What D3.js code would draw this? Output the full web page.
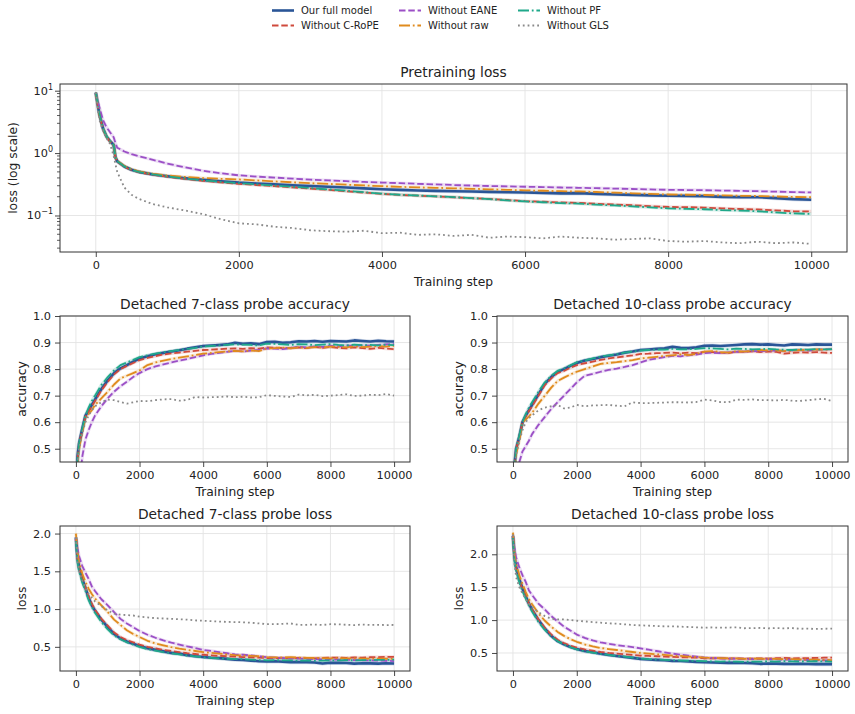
<!DOCTYPE html>
<html>
<head>
<meta charset="utf-8">
<script src="https://cdn.jsdelivr.net/npm/d3@7"></script>
<style>
  body { margin: 0; background: #fff; }
  svg { font-family: "DejaVu Sans", sans-serif; display: block; }
</style>
</head>
<body>
<svg id="chart" width="855" height="714"></svg>
<script>
// ---- data ----
const seriesNames = ['Our full model', 'Without C-RoPE', 'Without EANE', 'Without raw', 'Without PF', 'Without GLS'];

const xTicks = [0, 2000, 4000, 6000, 8000, 10000];
const accTicks = [0.5, 0.6, 0.7, 0.8, 0.9, 1.0];
const lossTicks = [0.5, 1.0, 1.5, 2.0];
const logTicks = [0.1, 1, 10];

// pretraining loss is logged on a finer grid early on
const preSteps = [0,50,100,150,200,250,275,300,400,500,600,800,1000,1250,1500,1750,2000,
  2250,2500,2750,3000,3250,3500,3750,4000,4250,4500,4750,5000,5250,5500,5750,6000,
  6250,6500,6750,7000,7250,7500,7750,8000,8250,8500,8750,9000,9250,9500,9750,10000];

const pre_full = [9.3,4.2,2.5,1.85,1.55,1.35,0.86,0.74,0.61,0.54,0.5,0.455,0.425,0.395,0.372,0.352,0.336,
  0.326,0.316,0.306,0.297,0.289,0.281,0.272,0.263,0.257,0.252,0.248,0.245,0.242,0.239,0.236,0.233,
  0.23,0.226,0.228,0.222,0.217,0.214,0.21,0.207,0.206,0.204,0.199,0.197,0.196,0.19,0.183,0.179];
const pre_crope = [9.2,4.1,2.45,1.82,1.52,1.33,0.84,0.73,0.6,0.535,0.495,0.45,0.418,0.385,0.36,0.34,0.322,
  0.308,0.295,0.282,0.27,0.257,0.245,0.233,0.222,0.214,0.208,0.202,0.196,0.19,0.184,0.177,0.17,
  0.166,0.162,0.159,0.154,0.15,0.146,0.141,0.137,0.136,0.134,0.13,0.127,0.125,0.121,0.117,0.116];
const pre_eane = [9.0,5.5,3.4,2.6,2.15,1.8,1.45,1.22,1.06,0.96,0.89,0.78,0.68,0.59,0.52,0.475,0.44,
  0.42,0.405,0.39,0.375,0.365,0.355,0.345,0.337,0.33,0.322,0.315,0.308,0.302,0.297,0.293,0.289,
  0.285,0.281,0.278,0.274,0.27,0.266,0.262,0.258,0.256,0.254,0.251,0.248,0.245,0.241,0.237,0.234];
const pre_raw = [9.3,4.2,2.5,1.84,1.55,1.35,0.87,0.75,0.62,0.55,0.51,0.465,0.437,0.415,0.398,0.387,0.378,
  0.365,0.352,0.34,0.33,0.321,0.312,0.303,0.295,0.288,0.282,0.278,0.273,0.268,0.263,0.258,0.253,
  0.249,0.245,0.243,0.238,0.232,0.227,0.222,0.217,0.215,0.213,0.21,0.207,0.205,0.202,0.198,0.196];
const pre_pf = [9.4,4.3,2.5,1.86,1.56,1.36,0.85,0.74,0.61,0.54,0.5,0.455,0.423,0.39,0.366,0.347,0.33,
  0.316,0.302,0.288,0.275,0.262,0.249,0.236,0.224,0.215,0.209,0.203,0.197,0.19,0.183,0.175,0.168,
  0.163,0.158,0.155,0.149,0.145,0.14,0.135,0.13,0.128,0.126,0.122,0.12,0.117,0.112,0.108,0.106];
const pre_gls = [9.5,3.4,2.3,1.75,1.4,0.9,0.66,0.5,0.28,0.215,0.185,0.152,0.135,0.12,0.105,0.087,0.075,
  0.072,0.066,0.063,0.058,0.056,0.055,0.057,0.052,0.053,0.049,0.05,0.047,0.049,0.044,0.046,0.045,
  0.043,0.046,0.044,0.043,0.041,0.042,0.043,0.039,0.038,0.039,0.037,0.036,0.038,0.036,0.037,0.035];

// probe metrics
const probeSteps = [0,50,100,200,300,400,500,600,800,1000,1200,1400,1600,1800,2000,
  2250,2500,2750,3000,3250,3500,3750,4000,4250,4500,4750,5000,5250,5500,5750,6000,
  6250,6500,6750,7000,7250,7500,7750,8000,8250,8500,8750,9000,9250,9500,9750,10000];

const acc7_full = [0.15,0.47,0.52,0.575,0.625,0.645,0.665,0.685,0.725,0.758,0.785,0.803,0.815,0.828,0.84,
  0.848,0.856,0.861,0.866,0.871,0.877,0.882,0.887,0.889,0.891,0.893,0.899,0.895,0.897,0.894,0.902,
  0.903,0.899,0.901,0.905,0.904,0.906,0.903,0.906,0.905,0.904,0.908,0.906,0.904,0.907,0.905,0.904];
const acc7_crope = [0.15,0.46,0.52,0.57,0.62,0.64,0.66,0.68,0.72,0.752,0.78,0.8,0.812,0.823,0.834,
  0.842,0.849,0.855,0.859,0.862,0.866,0.869,0.872,0.873,0.875,0.877,0.878,0.876,0.879,0.877,0.882,
  0.881,0.879,0.88,0.882,0.879,0.884,0.88,0.883,0.88,0.878,0.882,0.879,0.876,0.88,0.877,0.875];
const acc7_eane = [0.12,0.25,0.35,0.47,0.535,0.57,0.6,0.625,0.66,0.69,0.715,0.735,0.752,0.77,0.785,
  0.8,0.81,0.818,0.825,0.832,0.838,0.845,0.852,0.857,0.861,0.865,0.869,0.866,0.87,0.872,0.878,
  0.877,0.875,0.879,0.884,0.882,0.885,0.884,0.887,0.886,0.889,0.887,0.89,0.888,0.891,0.893,0.894];
const acc7_raw = [0.15,0.44,0.5,0.56,0.618,0.63,0.645,0.665,0.69,0.715,0.742,0.765,0.775,0.785,0.795,
  0.815,0.825,0.832,0.838,0.843,0.848,0.853,0.858,0.861,0.864,0.866,0.869,0.867,0.87,0.868,0.878,
  0.879,0.881,0.878,0.882,0.88,0.883,0.881,0.885,0.884,0.882,0.886,0.883,0.885,0.887,0.885,0.888];
const acc7_pf = [0.15,0.46,0.52,0.575,0.625,0.655,0.68,0.7,0.74,0.77,0.795,0.815,0.825,0.835,0.845,
  0.852,0.858,0.864,0.868,0.872,0.876,0.88,0.885,0.887,0.889,0.891,0.893,0.892,0.891,0.889,0.896,
  0.895,0.893,0.891,0.894,0.893,0.89,0.892,0.894,0.891,0.889,0.892,0.89,0.891,0.889,0.892,0.89];
const acc7_gls = [0.15,0.44,0.5,0.56,0.6,0.625,0.645,0.66,0.675,0.685,0.683,0.676,0.67,0.675,0.68,
  0.679,0.683,0.686,0.687,0.681,0.684,0.695,0.693,0.694,0.695,0.697,0.694,0.696,0.693,0.694,0.702,
  0.699,0.697,0.695,0.704,0.701,0.703,0.698,0.7,0.702,0.705,0.699,0.7,0.703,0.702,0.706,0.7];

const acc10_full = [0.12,0.44,0.5,0.545,0.6,0.625,0.645,0.665,0.705,0.745,0.77,0.79,0.8,0.812,0.823,
  0.832,0.838,0.845,0.85,0.855,0.862,0.866,0.872,0.874,0.876,0.878,0.884,0.88,0.879,0.882,0.888,
  0.889,0.887,0.889,0.891,0.893,0.894,0.892,0.893,0.891,0.889,0.893,0.892,0.891,0.893,0.892,0.892];
const acc10_crope = [0.12,0.44,0.5,0.545,0.6,0.622,0.642,0.66,0.7,0.74,0.765,0.785,0.793,0.805,0.815,
  0.822,0.828,0.835,0.84,0.844,0.848,0.852,0.857,0.858,0.86,0.861,0.862,0.86,0.862,0.86,0.865,
  0.864,0.862,0.86,0.866,0.865,0.867,0.864,0.866,0.865,0.858,0.861,0.863,0.862,0.864,0.862,0.861];
const acc10_eane = [0.1,0.22,0.32,0.45,0.49,0.51,0.53,0.555,0.59,0.62,0.65,0.675,0.7,0.725,0.75,
  0.775,0.782,0.79,0.797,0.802,0.808,0.815,0.825,0.835,0.84,0.845,0.85,0.848,0.852,0.855,0.86,
  0.862,0.86,0.863,0.865,0.866,0.868,0.867,0.869,0.87,0.868,0.871,0.872,0.87,0.873,0.874,0.875];
const acc10_raw = [0.12,0.42,0.48,0.53,0.6,0.61,0.622,0.635,0.67,0.7,0.73,0.755,0.768,0.78,0.79,
  0.8,0.81,0.82,0.823,0.826,0.83,0.834,0.84,0.843,0.846,0.849,0.852,0.855,0.853,0.857,0.866,
  0.868,0.864,0.862,0.867,0.866,0.869,0.872,0.87,0.871,0.868,0.869,0.872,0.871,0.874,0.873,0.875];
const acc10_pf = [0.12,0.44,0.5,0.55,0.6,0.63,0.655,0.675,0.715,0.75,0.775,0.793,0.803,0.814,0.826,
  0.833,0.84,0.847,0.852,0.856,0.862,0.866,0.87,0.872,0.874,0.873,0.876,0.874,0.875,0.876,0.879,
  0.878,0.876,0.874,0.877,0.876,0.874,0.875,0.876,0.874,0.873,0.872,0.874,0.873,0.875,0.874,0.875];
const acc10_gls = [0.12,0.42,0.48,0.53,0.57,0.6,0.615,0.625,0.645,0.655,0.66,0.665,0.652,0.655,0.665,
  0.66,0.663,0.664,0.665,0.662,0.66,0.675,0.672,0.672,0.673,0.674,0.675,0.675,0.674,0.676,0.685,
  0.682,0.676,0.675,0.685,0.684,0.686,0.683,0.683,0.682,0.684,0.681,0.68,0.683,0.686,0.688,0.68];

const loss7_full = [1.95,1.68,1.55,1.4,1.28,1.15,1.05,0.98,0.86,0.76,0.67,0.61,0.57,0.54,0.51,
  0.48,0.46,0.44,0.42,0.41,0.39,0.375,0.365,0.355,0.35,0.34,0.33,0.325,0.318,0.31,0.305,
  0.31,0.302,0.298,0.3,0.295,0.292,0.28,0.29,0.288,0.285,0.278,0.283,0.281,0.278,0.282,0.279];
const loss7_crope = [1.93,1.66,1.54,1.39,1.28,1.17,1.07,0.99,0.87,0.78,0.69,0.63,0.59,0.56,0.53,
  0.5,0.48,0.46,0.445,0.43,0.415,0.405,0.395,0.387,0.38,0.375,0.37,0.365,0.36,0.356,0.352,
  0.35,0.352,0.348,0.355,0.35,0.348,0.353,0.356,0.358,0.355,0.36,0.357,0.362,0.365,0.366,0.368];
const loss7_eane = [1.95,1.8,1.7,1.57,1.48,1.4,1.3,1.24,1.13,1.05,0.96,0.87,0.81,0.76,0.71,
  0.66,0.62,0.585,0.555,0.53,0.505,0.485,0.46,0.445,0.43,0.415,0.4,0.395,0.385,0.375,0.362,
  0.357,0.352,0.348,0.345,0.342,0.338,0.335,0.332,0.33,0.328,0.325,0.322,0.32,0.318,0.315,0.312];
const loss7_raw = [2.0,1.75,1.62,1.47,1.36,1.27,1.2,1.14,1.05,0.96,0.86,0.79,0.72,0.67,0.63,
  0.58,0.545,0.52,0.495,0.475,0.46,0.445,0.43,0.42,0.41,0.4,0.39,0.385,0.38,0.375,0.365,
  0.36,0.358,0.362,0.357,0.354,0.352,0.35,0.348,0.35,0.346,0.348,0.345,0.343,0.345,0.342,0.34];
const loss7_pf = [1.9,1.62,1.5,1.35,1.24,1.12,1.03,0.95,0.83,0.73,0.65,0.6,0.56,0.53,0.5,
  0.47,0.45,0.43,0.415,0.4,0.385,0.375,0.36,0.355,0.348,0.342,0.338,0.335,0.33,0.325,0.322,
  0.325,0.32,0.322,0.318,0.32,0.316,0.318,0.322,0.32,0.324,0.321,0.325,0.322,0.326,0.328,0.33];
const loss7_gls = [1.95,1.65,1.5,1.38,1.28,1.2,1.15,1.1,1.04,0.98,0.94,0.925,0.92,0.915,0.9,
  0.89,0.88,0.875,0.87,0.865,0.86,0.85,0.845,0.84,0.835,0.83,0.828,0.825,0.82,0.81,0.8,
  0.8,0.805,0.81,0.79,0.792,0.795,0.79,0.8,0.798,0.792,0.788,0.795,0.79,0.792,0.788,0.79];

const loss10_full = [2.28,1.95,1.8,1.62,1.48,1.36,1.25,1.16,1.0,0.87,0.76,0.68,0.63,0.59,0.56,
  0.53,0.51,0.49,0.47,0.455,0.44,0.425,0.41,0.4,0.395,0.39,0.38,0.378,0.372,0.365,0.36,
  0.355,0.352,0.35,0.353,0.348,0.345,0.335,0.34,0.338,0.335,0.333,0.336,0.332,0.33,0.332,0.33];
const loss10_crope = [2.26,1.93,1.78,1.6,1.47,1.36,1.25,1.16,1.01,0.88,0.78,0.7,0.65,0.61,0.58,
  0.555,0.535,0.515,0.5,0.49,0.48,0.47,0.46,0.455,0.45,0.445,0.44,0.435,0.432,0.428,0.42,
  0.418,0.42,0.415,0.417,0.412,0.415,0.418,0.415,0.42,0.425,0.418,0.42,0.422,0.425,0.428,0.43];
const loss10_eane = [2.3,2.08,1.95,1.8,1.68,1.58,1.45,1.38,1.25,1.16,1.06,0.98,0.9,0.84,0.78,
  0.73,0.69,0.66,0.64,0.62,0.605,0.59,0.57,0.55,0.53,0.51,0.49,0.475,0.46,0.445,0.43,
  0.425,0.42,0.415,0.413,0.41,0.408,0.405,0.405,0.402,0.4,0.398,0.395,0.393,0.39,0.388,0.385];
const loss10_raw = [2.33,2.0,1.85,1.68,1.55,1.43,1.32,1.24,1.1,0.99,0.9,0.82,0.76,0.71,0.67,
  0.63,0.6,0.575,0.56,0.545,0.53,0.515,0.5,0.49,0.48,0.47,0.46,0.455,0.445,0.44,0.43,
  0.425,0.422,0.42,0.418,0.41,0.415,0.412,0.41,0.41,0.405,0.408,0.402,0.4,0.398,0.395,0.392];
const loss10_pf = [2.25,1.9,1.75,1.57,1.44,1.33,1.22,1.13,0.97,0.85,0.75,0.68,0.63,0.59,0.555,
  0.525,0.505,0.485,0.47,0.455,0.445,0.43,0.415,0.405,0.4,0.395,0.39,0.385,0.382,0.378,0.375,
  0.373,0.37,0.372,0.368,0.365,0.37,0.368,0.372,0.37,0.375,0.372,0.37,0.373,0.375,0.372,0.37];
const loss10_gls = [2.3,1.85,1.65,1.5,1.4,1.32,1.25,1.2,1.12,1.06,1.02,1.01,1.01,1.0,0.99,
  0.98,0.97,0.96,0.95,0.945,0.935,0.925,0.92,0.915,0.91,0.905,0.905,0.9,0.895,0.89,0.885,
  0.888,0.884,0.886,0.89,0.876,0.878,0.88,0.875,0.878,0.874,0.878,0.868,0.87,0.865,0.868,0.87];

// ---- styling per series (same order as seriesNames) ----
const seriesStyle = [
  {color: '#2a5597', width: 2.6, dash: null},
  {color: '#cf4a3c', width: 1.8, dash: '6.5,2.8'},
  {color: '#9b4fc6', width: 1.8, dash: '6.5,2.8'},
  {color: '#e08b1e', width: 1.8, dash: '11,2.8,1.8,2.8'},
  {color: '#1fa88a', width: 1.8, dash: '11,2.8,1.8,2.8'},
  {color: '#8a8a8a', width: 1.8, dash: '1.8,3'}
];

const svg = d3.select('#chart');

class LinePanel {

  constructor(_config, _steps, _values) {
    this.config = {
      parentElement: _config.parentElement,
      left: _config.left,
      top: _config.top,
      width: _config.width,
      height: _config.height,
      title: _config.title,
      yLabel: _config.yLabel,
      yLabelOffset: _config.yLabelOffset || 34,
      yDomain: _config.yDomain,
      yTicks: _config.yTicks,
      logY: _config.logY || false,
      id: _config.id
    };
    this.steps = _steps;
    this.values = _values;
    this.initVis();
  }

  initVis() {
    let vis = this;
    vis.chart = vis.config.parentElement.append('g')
      .attr('transform', `translate(${vis.config.left},${vis.config.top})`);

    vis.chart.append('clipPath').attr('id', 'clip-' + vis.config.id)
      .append('rect')
      .attr('width', vis.config.width)
      .attr('height', vis.config.height);

    vis.gridG = vis.chart.append('g');
    vis.linesG = vis.chart.append('g').attr('clip-path', `url(#clip-${vis.config.id})`);
    vis.xAxisG = vis.chart.append('g').attr('transform', `translate(0,${vis.config.height})`);
    vis.yAxisG = vis.chart.append('g');

    vis.updateVis();
  }

  updateVis() {
    let vis = this;
    vis.xScale = d3.scaleLinear().domain([-500, 10500]).range([0, vis.config.width]);
    vis.yScale = (vis.config.logY ? d3.scaleLog() : d3.scaleLinear())
      .domain(vis.config.yDomain)
      .range([vis.config.height, 0]);

    vis.line = d3.line()
      .x(d => vis.xScale(d.step))
      .y(d => vis.yScale(d.value));

    vis.renderVis();
  }

  renderVis() {
    let vis = this;
    const w = vis.config.width, h = vis.config.height;

    // grid
    vis.gridG.selectAll('.gx').data(xTicks).join('line')
      .attr('class', 'gx')
      .attr('x1', d => vis.xScale(d)).attr('x2', d => vis.xScale(d))
      .attr('y1', 0).attr('y2', h)
      .attr('stroke', '#e3e3e3').attr('stroke-width', 0.9);
    vis.gridG.selectAll('.gy').data(vis.config.yTicks).join('line')
      .attr('class', 'gy')
      .attr('x1', 0).attr('x2', w)
      .attr('y1', d => vis.yScale(d)).attr('y2', d => vis.yScale(d))
      .attr('stroke', '#e3e3e3').attr('stroke-width', 0.9);

    const rows = vis.values.map((vals, i) => ({
      name: seriesNames[i],
      style: seriesStyle[i],
      points: vis.steps.map((s, j) => ({step: s, value: vals[j]}))
    }));

    // faint raw trace under each curve
    vis.linesG.selectAll('.halo').data(rows).join('path')
      .attr('class', 'halo')
      .attr('d', d => vis.line(d.points))
      .attr('fill', 'none')
      .attr('stroke', d => d.style.color)
      .attr('stroke-width', d => d.style.width + 1.5)
      .attr('stroke-opacity', d => d.style.dash === '1.8,3' ? 0 : 0.18);

    vis.linesG.selectAll('.series').data(rows).join('path')
      .attr('class', 'series')
      .attr('d', d => vis.line(d.points))
      .attr('fill', 'none')
      .attr('stroke', d => d.style.color)
      .attr('stroke-width', d => d.style.width)
      .attr('stroke-dasharray', d => d.style.dash)
      .attr('stroke-linejoin', 'round');

    // axes
    vis.xAxis = d3.axisBottom(vis.xScale).tickValues(xTicks).tickSize(5).tickPadding(4)
      .tickFormat(d3.format('d'));
    vis.xAxisG.call(vis.xAxis);

    if (vis.config.logY) {
      vis.yAxis = d3.axisLeft(vis.yScale).tickValues(vis.config.yTicks).tickSize(5).tickFormat('');
      vis.yAxisG.call(vis.yAxis);
      const minor = [];
      [0.01, 0.1, 1].forEach(base => d3.range(2, 10).forEach(k => minor.push(base * k)));
      vis.yAxisG.selectAll('.minor').data(minor.filter(v => v > vis.config.yDomain[0] && v < vis.config.yDomain[1]))
        .join('line').attr('class', 'minor')
        .attr('x1', -3).attr('x2', 0)
        .attr('y1', d => vis.yScale(d)).attr('y2', d => vis.yScale(d))
        .attr('stroke', '#333').attr('stroke-width', 0.8);
      const lab = vis.yAxisG.selectAll('.loglab').data(vis.config.yTicks).join('text')
        .attr('class', 'loglab')
        .attr('x', -7)
        .attr('y', d => vis.yScale(d) + 4)
        .attr('text-anchor', 'end')
        .attr('font-size', 11.3)
        .attr('fill', '#222');
      lab.append('tspan').text('10');
      lab.append('tspan').attr('dy', -5).attr('font-size', 8).text(d => String(Math.round(Math.log10(d))).replace('-', '\u2212'));
    } else {
      vis.yAxis = d3.axisLeft(vis.yScale).tickValues(vis.config.yTicks).tickSize(5).tickPadding(4)
        .tickFormat(d3.format('.1f'));
      vis.yAxisG.call(vis.yAxis);
    }

    [vis.xAxisG, vis.yAxisG].forEach(g => {
      g.attr('font-family', null).attr('font-size', null);
      g.select('.domain').remove();
      g.selectAll('.tick line').attr('stroke', '#333').attr('stroke-width', 0.9);
      g.selectAll('.tick text').attr('font-size', 11.3).attr('fill', '#222');
    });

    // spines
    vis.chart.append('rect')
      .attr('width', w).attr('height', h)
      .attr('fill', 'none').attr('stroke', '#333').attr('stroke-width', 1);

    // labels
    vis.chart.append('text')
      .attr('x', w / 2).attr('y', -7)
      .attr('text-anchor', 'middle')
      .attr('font-size', 13.8).attr('fill', '#222')
      .text(vis.config.title);

    vis.chart.append('text')
      .attr('x', w / 2).attr('y', h + 34)
      .attr('text-anchor', 'middle')
      .attr('font-size', 12.3).attr('fill', '#222')
      .text('Training step');

    vis.chart.append('text')
      .attr('transform', `translate(${-vis.config.yLabelOffset},${h / 2}) rotate(-90)`)
      .attr('text-anchor', 'middle')
      .attr('font-size', 12.3).attr('fill', '#222')
      .text(vis.config.yLabel);
  }
}

new LinePanel({parentElement: svg, id: 'pre', left: 60, top: 84, width: 787, height: 168,
  title: 'Pretraining loss', yLabel: 'loss (log scale)', yLabelOffset: 43,
  yDomain: [0.026, 12.8], yTicks: logTicks, logY: true},
  preSteps, [pre_full, pre_crope, pre_eane, pre_raw, pre_pf, pre_gls]);

new LinePanel({parentElement: svg, id: 'acc7', left: 60, top: 316, width: 350, height: 146,
  title: 'Detached 7-class probe accuracy', yLabel: 'accuracy', yDomain: [0.45, 1.0], yTicks: accTicks},
  probeSteps, [acc7_full, acc7_crope, acc7_eane, acc7_raw, acc7_pf, acc7_gls]);

new LinePanel({parentElement: svg, id: 'acc10', left: 497, top: 316, width: 351, height: 146,
  title: 'Detached 10-class probe accuracy', yLabel: 'accuracy', yDomain: [0.45, 1.0], yTicks: accTicks},
  probeSteps, [acc10_full, acc10_crope, acc10_eane, acc10_raw, acc10_pf, acc10_gls]);

new LinePanel({parentElement: svg, id: 'loss7', left: 60, top: 526, width: 350, height: 145,
  title: 'Detached 7-class probe loss', yLabel: 'loss', yDomain: [0.18, 2.1], yTicks: lossTicks},
  probeSteps, [loss7_full, loss7_crope, loss7_eane, loss7_raw, loss7_pf, loss7_gls]);

new LinePanel({parentElement: svg, id: 'loss10', left: 497, top: 526, width: 351, height: 145,
  title: 'Detached 10-class probe loss', yLabel: 'loss', yDomain: [0.226, 2.43], yTicks: lossTicks},
  probeSteps, [loss10_full, loss10_crope, loss10_eane, loss10_raw, loss10_pf, loss10_gls]);

// legend, 3 columns x 2 rows, filled column by column
const legendCols = [272, 399, 518];
const legend = svg.append('g');
seriesNames.forEach((name, i) => {
  const cx = legendCols[Math.floor(i / 2)];
  const cy = 10.5 + (i % 2) * 15;
  const st = seriesStyle[i];
  legend.append('line')
    .attr('x1', cx).attr('x2', cx + 22)
    .attr('y1', cy).attr('y2', cy)
    .attr('stroke', st.color).attr('stroke-width', st.width)
    .attr('stroke-dasharray', st.dash);
  legend.append('text')
    .attr('x', cx + 29).attr('y', cy + 3.6)
    .attr('font-size', 10).attr('fill', '#222')
    .text(name);
});
</script>
</body>
</html>
